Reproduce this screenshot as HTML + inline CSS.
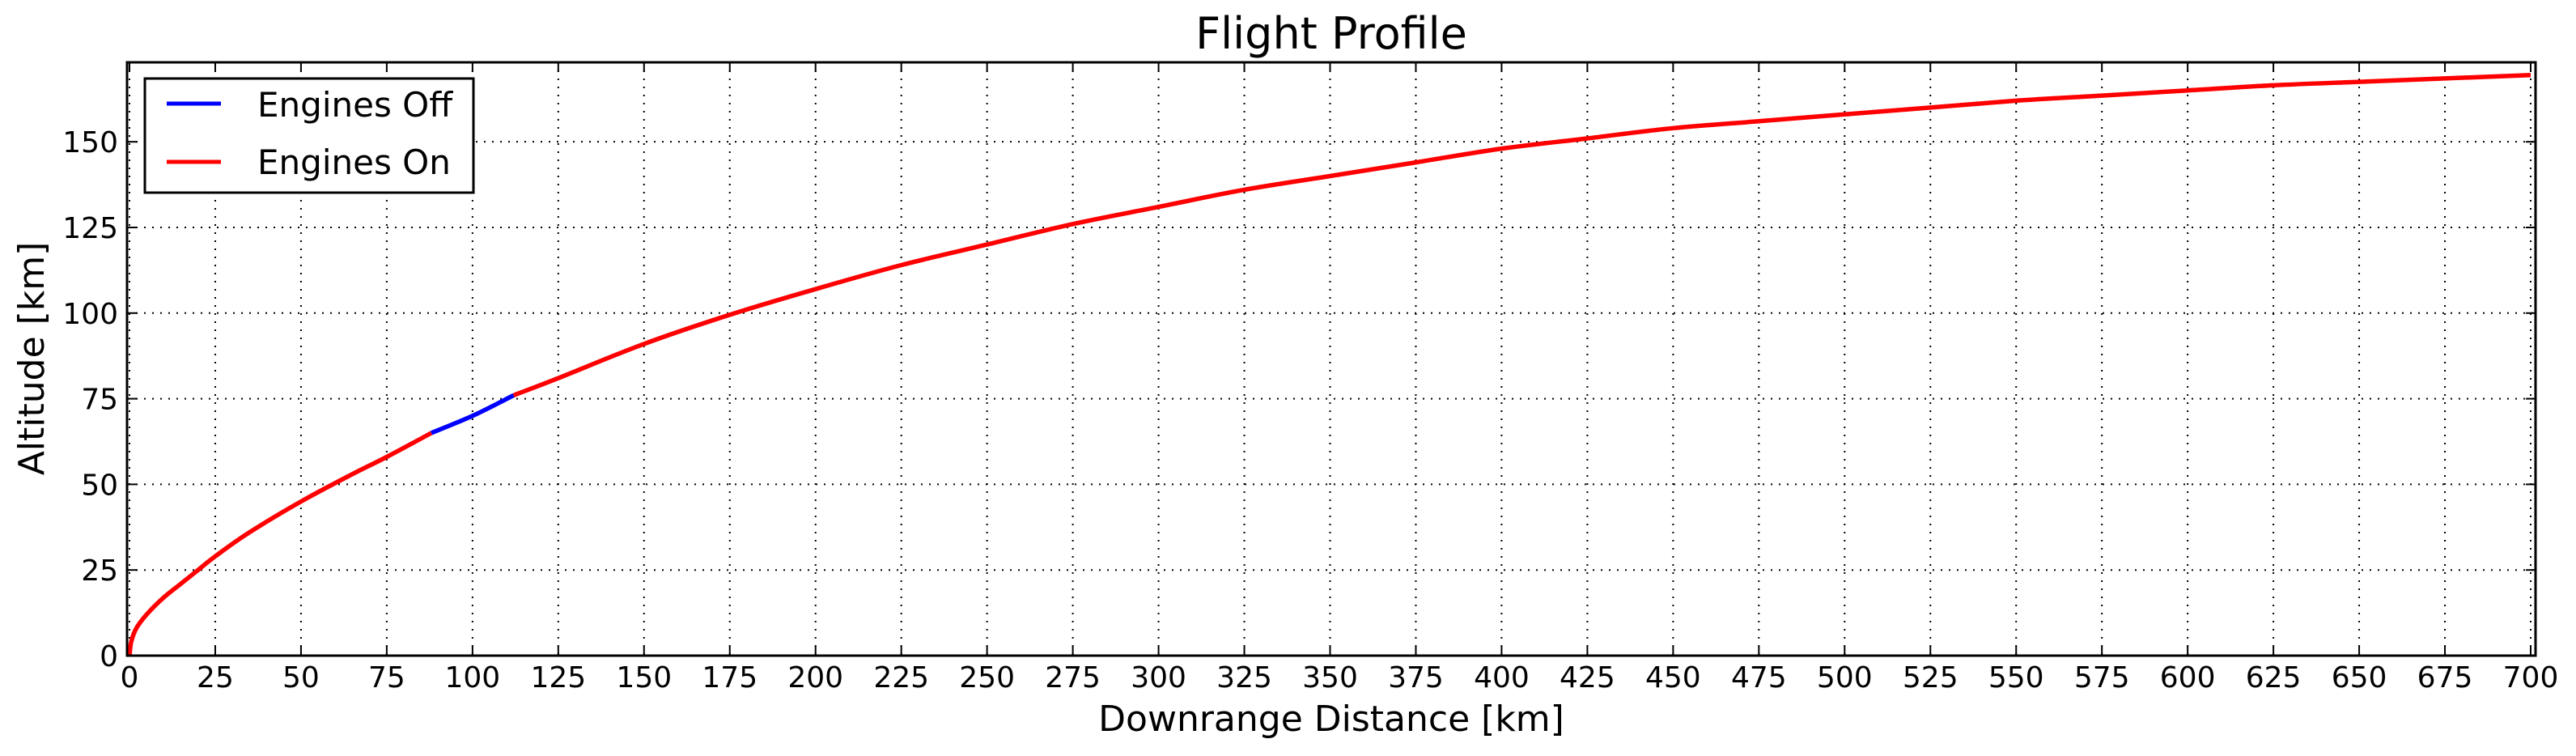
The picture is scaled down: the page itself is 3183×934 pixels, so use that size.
<!DOCTYPE html>
<html><head><meta charset="utf-8"><style>
html,body{margin:0;padding:0;background:#fff;width:3183px;height:934px;overflow:hidden}
text{font-family:"DejaVu Sans","Liberation Sans",sans-serif;fill:#000}
</style></head><body>
<svg id="chart" width="3183" height="934" xmlns="http://www.w3.org/2000/svg"></svg>
<script>
const xTicks=[0,25,50,75,100,125,150,175,200,225,250,275,300,325,350,375,400,425,450,475,500,525,550,575,600,625,650,675,700];
const yTicks=[0,25,50,75,100,125,150];
const onX1=[0,0.5,2,5,10,15,20,25,35,50,65,75,88];
const onY1=[0,4,8,12,17,21,25,29,36,45,53,58,65];
const offX=[88,100,112];
const offY=[65,70,76];
const onX2=[112,125,150,175,200,225,250,275,300,325,350,375,400,425,450,475,500,525,550,575,600,625,650,675,700];
const onY2=[76,81,91,99.5,107,114,120,126,131,136,140,144,148,151,154,156,158,160,162,163.5,165,166.5,167.5,168.5,169.5];
const L=160,R=3127,T=77,B=810,XMAX=700,YMAX=173.2;
const sx=v=>L+(v/XMAX)*(R-L);
const sy=v=>B-(v/YMAX)*(B-T);
const svg=document.getElementById('chart');const NS='http://www.w3.org/2000/svg';
function mk(t,a,p){const e=document.createElementNS(NS,t);for(const k in a)e.setAttribute(k,a[k]);(p||svg).appendChild(e);return e;}
const title=mk('text',{x:1645,y:60,'font-size':54,'text-anchor':'middle'});title.textContent='Flight Profile';


xTicks.forEach(v=>{const x=sx(v);
 const g=mk('line',{x1:x,x2:x,y1:T,y2:B,stroke:'#000','stroke-width':2,'stroke-dasharray':'2 8'});
 
 
 mk('line',{x1:x,x2:x,y1:B,y2:B-12,stroke:'#000','stroke-width':2});
 mk('line',{x1:x,x2:x,y1:T,y2:T+12,stroke:'#000','stroke-width':2});
 const t=mk('text',{x:x,y:849,'font-size':36,'text-anchor':'middle'});t.textContent=v;
 
 });
yTicks.forEach(v=>{const y=sy(v);
 const g=mk('line',{x1:L-2,x2:R+6,y1:y,y2:y,stroke:'#000','stroke-width':2,'stroke-dasharray':'2 8'});
 
 
 mk('line',{x1:L-2,x2:L+10,y1:y,y2:y,stroke:'#000','stroke-width':2});
 mk('line',{x1:R+6,x2:R-6,y1:y,y2:y,stroke:'#000','stroke-width':2});
 const t=mk('text',{x:146,y:y+13,'font-size':36,'text-anchor':'end'});t.textContent=v;
 
 });
function line(xs,ys,c,n){
 const P=xs.map((x,i)=>[sx(x),sy(ys[i])]);
 let d='M'+P[0][0].toFixed(1)+' '+P[0][1].toFixed(1);
 for(let i=0;i<P.length-1;i++){const p0=P[Math.max(0,i-1)],p1=P[i],p2=P[i+1],p3=P[Math.min(P.length-1,i+2)];
  const c1=[p1[0]+(p2[0]-p0[0])/6,p1[1]+(p2[1]-p0[1])/6],c2=[p2[0]-(p3[0]-p1[0])/6,p2[1]-(p3[1]-p1[1])/6];
  d+=' C'+c1[0].toFixed(1)+' '+c1[1].toFixed(1)+' '+c2[0].toFixed(1)+' '+c2[1].toFixed(1)+' '+p2[0].toFixed(1)+' '+p2[1].toFixed(1);}
 const p=mk('path',{d:d,fill:'none',stroke:c,'stroke-width':5.5,'stroke-linejoin':'round'});
 
 }
line(onX1,onY1,'#ff0000','engines-on-line-1');
line(offX,offY,'#0000ff','engines-off-line');
line(onX2,onY2,'#ff0000','engines-on-line-2');
const fr=mk('rect',{x:L-3,y:T,width:R+9-L,height:B-T,fill:'none',stroke:'#000','stroke-width':3});


const xl=mk('text',{x:1645,y:903,'font-size':44,'text-anchor':'middle'});xl.textContent='Downrange Distance [km]';


const yl=mk('text',{x:54,y:443,'font-size':44,'text-anchor':'middle',transform:'rotate(-90 54 443)'});yl.textContent='Altitude [km]';


const lg=mk('g',{});


mk('rect',{x:179,y:97,width:406,height:141,fill:'#fff',stroke:'#000','stroke-width':3},lg);
mk('line',{x1:206,x2:273,y1:128,y2:128,stroke:'#0000ff','stroke-width':5},lg);
mk('line',{x1:206,x2:273,y1:200,y2:200,stroke:'#ff0000','stroke-width':5},lg);
const l1=mk('text',{x:318,y:144,'font-size':42},lg);l1.textContent='Engines Off';


const l2=mk('text',{x:318,y:215,'font-size':42},lg);l2.textContent='Engines On';


</script>
</body></html>
